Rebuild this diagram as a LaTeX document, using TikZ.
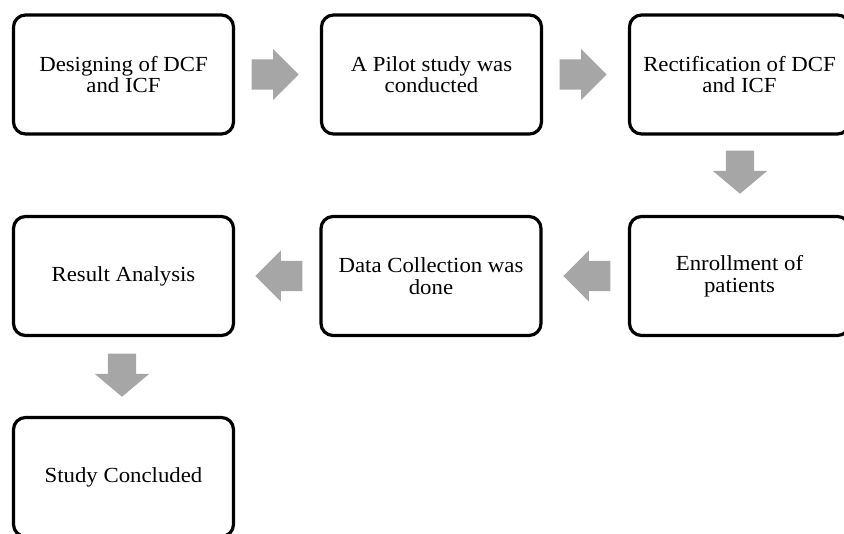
\documentclass[tikz,border=0pt]{standalone}
\usepackage{fontspec}
\setmainfont[FakeStretch=1.06]{Liberation Serif}
\usetikzlibrary{shapes.arrows}
\definecolor{arrowgray}{RGB}{166,166,166}
\tikzset{
stage/.style={
	  draw, line width=3.2pt, rounded corners=12pt,
	    minimum width=220pt, minimum height=119pt, align=center,
    font=\fontsize{21.5}{21.5}\selectfont},
flow/.style={
	  single arrow, fill=arrowgray, draw=none, inner sep=0pt, anchor=tip,
	    inner ysep=15pt, minimum height=47pt, single arrow head extend=10.5pt},
downflow/.style={
	  flow, shape border rotate=270, inner ysep=0pt, inner xsep=14pt,
	    minimum height=43pt, single arrow head extend=13pt,
    single arrow tip angle=100}
}

\begin{document}
\begin{tikzpicture}[x=1pt, y=-1pt]
	\useasboundingbox (0,0) rectangle (844,534);
	% first row
	\node[stage] (design) at (123.5,74.5) {Designing of DCF\\and ICF};
	\node[stage] (pilot) at (431.5,74.5) {A Pilot study was\\conducted};
	\node[stage] (rectify) at (739.5,74.5) {Rectification of DCF\\and ICF};
	% second row
	\node[stage] (enrol) at (739.5,276) {Enrollment of\\patients};
	\node[stage] (collect) at (431,276) {Data Collection was\\done};
	\node[stage] (analysis) at (123.5,276) {Result Analysis};
	% last row
	\node[stage] (conclude) at (123.5,477) {Study Concluded};
	% block arrows, placed by their tips
	\node[flow] (a1) at (299,74.5) {};
	\node[flow] (a2) at (607,74.5) {};
	\node[downflow] (a3) at (740,194) {};
	\node[flow, shape border rotate=180] (a4) at (563,276) {};
	\node[flow, shape border rotate=180] (a5) at (255,276) {};
	\node[downflow] (a6) at (122,397) {};
\end{tikzpicture}
\end{document}
